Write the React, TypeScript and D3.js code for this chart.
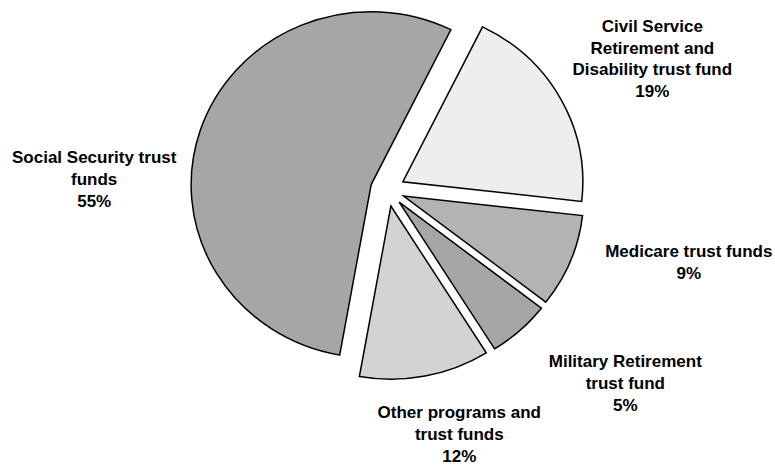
import React from "react";
import * as d3 from "d3";

const categories = [
  "Civil Service Retirement and Disability trust fund",
  "Medicare trust funds",
  "Military Retirement trust fund",
  "Other programs and trust funds",
  "Social Security trust funds",
];
const values = [19.5, 8.7, 5.6, 11.7, 54.5];
const pctLabels = ["19%", "9%", "5%", "12%", "55%"];
const labelLines = [
  ["Civil Service", "Retirement and", "Disability trust fund"],
  ["Medicare trust funds"],
  ["Military Retirement", "trust fund"],
  ["Other programs and", "trust funds"],
  ["Social Security trust", "funds"],
];
const fills = ["#eeeeee", "#b3b3b3", "#a6a6a6", "#d3d3d3", "#a6a6a6"];

const W = 775;
const H = 466;
const CX = 387.6;
const CY = 189.8;
const RX = 180;
const RY = 173;
const EXPLODE = 0.096;
const START = (26.3 * Math.PI) / 180;
const FONT = 17;
const LINE_H = 21.8;

// label anchor: center x and first baseline y
const labelPos = [
  [652.3, 31.7],
  [688.8, 256.7],
  [625.3, 367.3],
  [459.3, 418.3],
  [94.2, 163.3],
];

export default function App() {
  const pie = d3
    .pie<number>()
    .sort(null)
    .value((d) => d)
    .startAngle(START)
    .endAngle(START + 2 * Math.PI);
  const arcs = pie(values);
  const arc = d3.arc<d3.PieArcDatum<number>>().innerRadius(0).outerRadius(1);

  return (
    <svg
      width={W}
      height={H}
      style={{ position: "absolute", left: 0, top: 0, background: "#fff" }}
    >
      {arcs.map((a, i) => {
        const mid = (a.startAngle + a.endAngle) / 2;
        const ox = CX + RX * EXPLODE * Math.sin(mid);
        const oy = CY - RY * EXPLODE * Math.cos(mid);
        return (
          <path
            key={categories[i]}
            d={arc(a) || ""}
            transform={`translate(${ox},${oy}) scale(${RX},${RY})`}
            fill={fills[i]}
            stroke="#000"
            strokeWidth={1.5}
            strokeLinejoin="miter"
            vectorEffect="non-scaling-stroke"
          />
        );
      })}
      {labelLines.map((lines, i) => {
        const [lx, ly] = labelPos[i];
        const all = [...lines, pctLabels[i]];
        return (
          <text
            key={"l" + i}
            x={lx}
            y={ly}
            textAnchor="middle"
            fontFamily="'Liberation Sans', Arial, sans-serif"
            fontWeight="bold"
            fontSize={FONT}
            fill="#000"
          >
            {all.map((t, j) => (
              <tspan key={j} x={lx} y={ly + j * LINE_H}>
                {t}
              </tspan>
            ))}
          </text>
        );
      })}
    </svg>
  );
}
